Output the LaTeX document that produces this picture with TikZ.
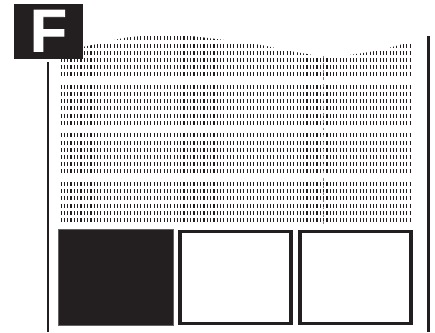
\documentclass[tikz,border=0pt]{standalone}
\usepackage{fontspec}
\newfontfamily\Fheavy[FakeBold=1.5]{Liberation Sans}
\definecolor{ink}{HTML}{231F20}
\tikzset{
  dashrow/.style={ink, line width=4pt, dash pattern=on 1.1pt off 2.224pt},
  sideline/.style={ink, line width=2.6pt},
  openbox/.style={draw=ink, line width=3.3pt, fill=white, minimum width=111.1pt, minimum height=91.7pt, inner sep=0pt},
  solidbox/.style={fill=ink, draw=ink!70, line width=0.6pt, minimum width=114.4pt, minimum height=95.4pt, inner sep=0pt}
}
\begin{document}
\begin{tikzpicture}[x=1pt,y=-1pt]
\useasboundingbox (0,0) rectangle (435,332);
\fill[white] (0,0) rectangle (435,332);
% dotted texture clipped by a wavy top
\begin{scope}
\clip plot[smooth] coordinates {(56,52) (100,43.5) (127,37.5) (170,34.5) (212,38.5) (258,44.5) (290,51) (330,56.5) (375,51) (403,44) (415,41)} -- (415,226) -- (56,226) -- cycle;
\foreach \g in {0,...,3}{
  \foreach \r in {0,...,5}{
    \draw[dashrow] (60.5,{38.3+48.57*\g+7.2*\r}) -- (411,{38.3+48.57*\g+7.2*\r});
  }
}
\end{scope}
\draw[ink!55, line width=1.1pt, dash pattern=on 2.6pt off 4.6pt] (323.6,55.5) -- (323.6,225);
% side lines
\coordinate (lt) at (48,62);
\coordinate (lb) at (48,332);
\coordinate (rt) at (428.7,36);
\coordinate (rb) at (428.7,332);
\draw[sideline] (lt) -- (lb);
\draw[sideline] (rt) -- (rb);
% label box
\node[fill=ink, minimum width=69pt, minimum height=55pt, inner sep=0pt] (fbox) at (48.5,31.5) {};
\node[text=white, font=\Fheavy\bfseries\fontsize{60}{60}\selectfont, inner sep=0pt] (F) at (48.5,30.7) {F};
% bottom boxes
\node[solidbox] (b1) at (115.8,277.3) {};
\node[openbox] (b2) at (235.5,277.5) {};
\node[openbox] (b3) at (355.5,277.4) {};
\end{tikzpicture}
\end{document}
